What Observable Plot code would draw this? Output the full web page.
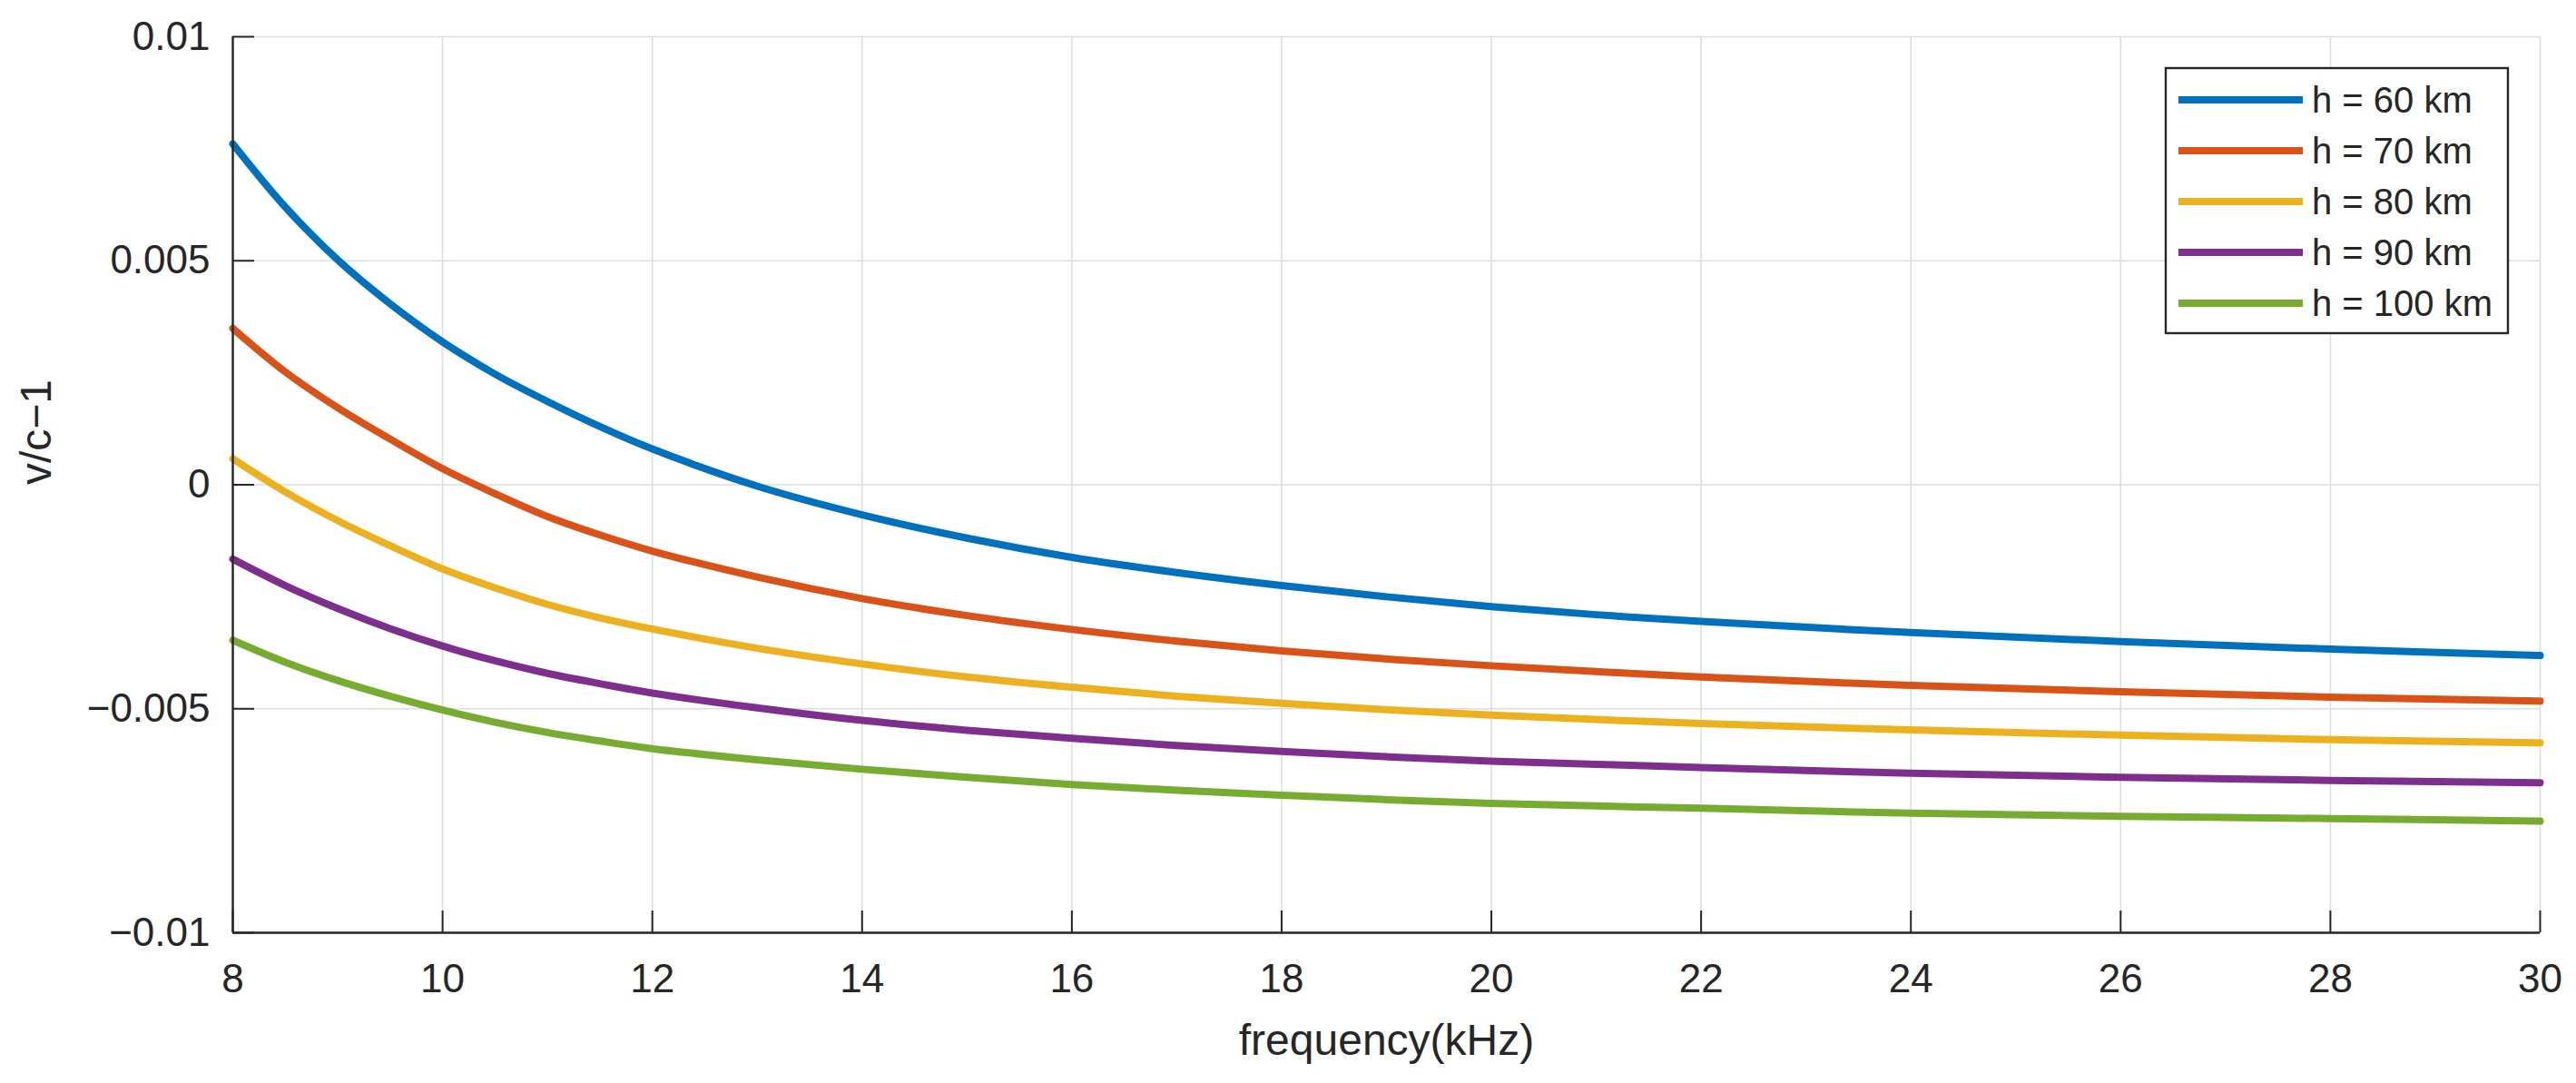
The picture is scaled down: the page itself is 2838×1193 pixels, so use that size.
<!DOCTYPE html>
<html>
<head>
<meta charset="utf-8">
<script src="https://cdn.jsdelivr.net/npm/d3@7"></script>
<script src="https://cdn.jsdelivr.net/npm/@observablehq/plot@0.6"></script>
<style>
  html, body { margin: 0; padding: 0; background: #ffffff; overflow: hidden; }
  #chart { width: 2838px; height: 1193px; }
</style>
</head>
<body>
<div id="chart"></div>
<script>
// ---- data ----
const freq = [8, 8.5, 9, 9.5, 10, 10.5, 11, 11.5, 12, 13, 14, 15, 16, 17, 18, 19, 20, 21, 22, 24, 26, 28, 30];

const h60  = [0.00761, 0.00620, 0.00502, 0.00404, 0.00319, 0.00247, 0.00186, 0.00130, 0.00080, -0.00003, -0.00067, -0.00119, -0.00162, -0.00196, -0.00225, -0.00250, -0.00272, -0.00290, -0.00305, -0.00330, -0.00350, -0.00367, -0.00381];
const h70  = [0.00349, 0.00252, 0.00172, 0.00102, 0.00036, -0.00020, -0.00071, -0.00112, -0.00148, -0.00206, -0.00254, -0.00292, -0.00323, -0.00349, -0.00371, -0.00389, -0.00404, -0.00417, -0.00429, -0.00448, -0.00462, -0.00474, -0.00483];
const h80  = [0.00058, -0.00016, -0.00080, -0.00136, -0.00188, -0.00230, -0.00267, -0.00297, -0.00322, -0.00365, -0.00400, -0.00429, -0.00452, -0.00472, -0.00488, -0.00502, -0.00514, -0.00524, -0.00533, -0.00547, -0.00559, -0.00569, -0.00576];
const h90  = [-0.00166, -0.00225, -0.00276, -0.00321, -0.00360, -0.00393, -0.00421, -0.00444, -0.00465, -0.00498, -0.00526, -0.00548, -0.00566, -0.00582, -0.00595, -0.00607, -0.00617, -0.00624, -0.00631, -0.00644, -0.00653, -0.00660, -0.00665];
const h100 = [-0.00347, -0.00396, -0.00437, -0.00472, -0.00503, -0.00530, -0.00553, -0.00572, -0.00589, -0.00614, -0.00635, -0.00653, -0.00669, -0.00682, -0.00693, -0.00703, -0.00711, -0.00717, -0.00722, -0.00733, -0.00740, -0.00745, -0.00751];

const seriesNames = ["h = 60 km", "h = 70 km", "h = 80 km", "h = 90 km", "h = 100 km"];
const seriesColors = ["#0072BD", "#D95319", "#EDB120", "#7E2F8E", "#77AC30"];
const xTicks = [8, 10, 12, 14, 16, 18, 20, 22, 24, 26, 28, 30];
const yTicks = [-0.01, -0.005, 0, 0.005, 0.01];
const yTickLabels = ["\u22120.01", "\u22120.005", "0", "0.005", "0.01"];
const xLabel = "frequency(kHz)";
const yLabel = "v/c\u22121";

// ---- tidy table for Plot ----
const seriesValues = [h60, h70, h80, h90, h100];
const rows = [];
seriesValues.forEach((vals, s) => {
  vals.forEach((v, i) => rows.push({f: freq[i], v, h: seriesNames[s]}));
});

// ---- layout ----
const W = 2838, H = 1193;
const mL = 256, mR = 40, mT = 40, mB = 166;
const plotW = W - mL - mR, plotH = H - mT - mB;
const ink = "#262626";
const gridColor = "#dedede";
const tickLen = 24;
const fontStack = "'Liberation Sans', Arial, Helvetica, sans-serif";

const chart = Plot.plot({
  width: W,
  height: H,
  marginLeft: mL,
  marginRight: mR,
  marginTop: mT,
  marginBottom: mB,
  style: {fontFamily: fontStack, background: "#ffffff", color: ink},
  x: {domain: [8, 30]},
  y: {domain: [-0.01, 0.01]},
  color: {domain: seriesNames, range: seriesColors},
  marks: [
    Plot.gridX(xTicks, {stroke: gridColor, strokeOpacity: 1, strokeWidth: 1.6}),
    Plot.gridY(yTicks, {stroke: gridColor, strokeOpacity: 1, strokeWidth: 1.6}),
    Plot.line(rows, {x: "f", y: "v", z: "h", stroke: "h", strokeWidth: 8, curve: "catmull-rom"}),
    // inward ticks
    Plot.ruleX(xTicks, {stroke: ink, strokeWidth: 2, insetTop: plotH - tickLen}),
    Plot.ruleY(yTicks, {stroke: ink, strokeWidth: 2, insetRight: plotW - tickLen}),
    // axis lines (box off)
    Plot.ruleX([8], {stroke: ink, strokeWidth: 2.4}),
    Plot.ruleY([-0.01], {stroke: ink, strokeWidth: 2.4}),
    Plot.axisX(xTicks, {tickSize: 0, tickPadding: 34, fontSize: 44, fill: ink, tickFormat: d => String(d), label: null}),
    Plot.axisY(yTicks, {tickSize: 0, tickPadding: 25, fontSize: 44, fill: ink, tickFormat: d => yTickLabels[yTicks.indexOf(d)], label: null}),
    Plot.text([xLabel], {frameAnchor: "bottom", dy: 119, fontSize: 48, fill: ink, lineAnchor: "middle"}),
    Plot.text([yLabel], {frameAnchor: "left", dx: -216, rotate: -90, fontSize: 48, fill: ink, lineAnchor: "middle"})
  ]
});

document.getElementById("chart").appendChild(chart);

// ---- legend (northeast, MATLAB style) ----
const svg = d3.select(chart);
const lg = svg.append("g").attr("class", "legend").attr("text-anchor", "start");
const boxX = 2386, boxY = 75, boxW = 377, boxH = 292;
lg.append("rect")
  .attr("x", boxX).attr("y", boxY).attr("width", boxW).attr("height", boxH)
  .attr("fill", "#ffffff").attr("stroke", ink).attr("stroke-width", 2.4);
const rowY0 = 110, rowStep = 56;
seriesNames.forEach((name, i) => {
  const y = rowY0 + i * rowStep;
  lg.append("line")
    .attr("x1", boxX + 14).attr("x2", boxX + 151)
    .attr("y1", y).attr("y2", y)
    .attr("stroke", seriesColors[i]).attr("stroke-width", 8);
  lg.append("text")
    .attr("x", boxX + 161).attr("y", y)
    .attr("dy", "0.35em")
    .attr("text-anchor", "start")
    .attr("fill", ink)
    .attr("font-size", 40)
    .attr("font-family", fontStack)
    .text(name);
});
</script>
</body>
</html>
